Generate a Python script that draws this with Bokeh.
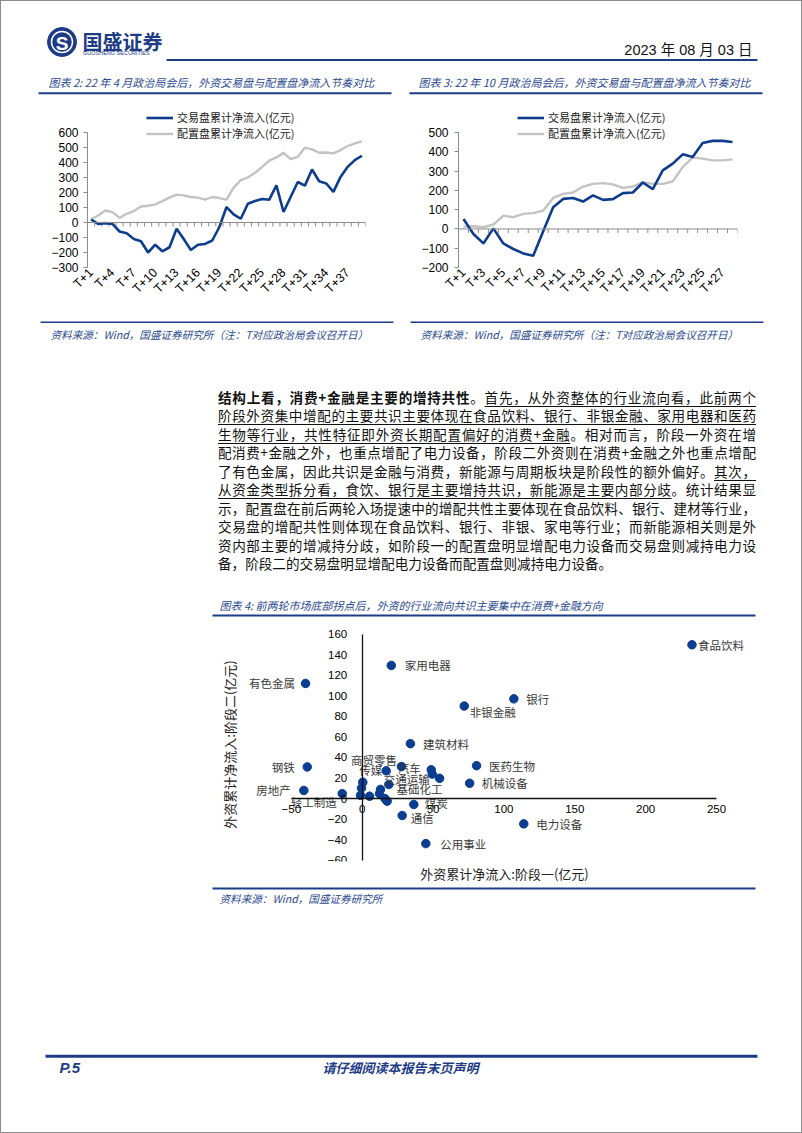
import math
from bokeh.plotting import figure
from bokeh.models import (Range1d, LinearAxis, FixedTicker, Legend, LegendItem,
                          ColumnDataSource, Div, Span)
from bokeh.layouts import column, row
from bokeh.core.properties import value
from bokeh.embed import file_html
from bokeh.resources import INLINE

# ---------------- data ----------------
apr_labels = ["T+%d" % i for i in range(1, 40)]
apr_trade = [20, -9, -4, -9, -60, -72, -110, -125, -200, -148, -192, -165, -42, -110,
             -183, -148, -143, -120, -30, 103, 54, 25, 125, 143, 157, 152, 248, 70,
             170, 270, 246, 353, 275, 260, 204, 304, 371, 416, 445]
apr_alloc = [20, 47, 80, 69, 31, 58, 76, 107, 112, 121, 143, 166, 186, 181, 170, 166,
             152, 170, 163, 152, 233, 282, 300, 331, 371, 412, 434, 465, 423, 438,
             499, 488, 465, 467, 461, 483, 510, 528, 541]

oct_labels = ["T+%d" % i for i in range(1, 29)]
oct_trade = [52, -26, -75, 3, -75, -104, -127, -139, -12, 113, 156, 161, 142, 174,
             151, 155, 186, 189, 241, 207, 304, 339, 387, 373, 446, 457, 457, 451]
oct_alloc = [12, 14, 9, 23, 69, 61, 78, 82, 95, 161, 182, 189, 220, 234, 238, 231,
             213, 220, 243, 234, 234, 246, 321, 370, 365, 356, 356, 361]

ind_names = ["食品饮料", "家用电器", "有色金属", "银行", "非银金融", "建筑材料", "钢铁",
             "医药生物", "机械设备", "房地产", "电力设备", "公用事业", "通信", "煤炭",
             "轻工制造", "传媒", "商贸零售", "汽车", "交通运输", "基础化工",
             "", "", "", "", "", "", "", "", ""]
stage1_flow = [232.7, 20.5, -40.0, 107.0, 72.0, 34.0, -38.8, 80.7, 75.8, -41.2, 114.0,
               44.9, 28.2, 36.4, -14.1, 16.9, 27.7, 48.7, 18.8, 12.9,
               49.4, 54.6, 0.4, -0.5, -1.2, 5.2, 12.2, 16.0, 17.6]
stage2_flow = [149.6, 129.5, 112.0, 97.0, 90.0, 53.4, 30.8, 32.0, 14.9, 7.9, -24.6,
               -43.8, -16.5, -5.7, 4.8, 27.0, 31.1, 28.0, 13.7, 8.9,
               23.8, 19.7, 15.9, 10.2, 3.2, 2.3, 4.8, 0.0, -2.5]

# label placement (style only): dx, dy in px, alignment
label_style = {
    "食品饮料": (6, 0, "left"), "家用电器": (13.5, 0, "left"), "有色金属": (-10.5, 0, "right"),
    "银行": (12.5, 0, "left"), "非银金融": (5.5, 5.5, "left"), "建筑材料": (12.5, 0, "left"),
    "钢铁": (-12.5, 0, "right"), "医药生物": (12.5, 0, "left"), "机械设备": (12, 0, "left"),
    "房地产": (-13, 0, "right"), "电力设备": (12.5, 0, "left"), "公用事业": (14.5, 0, "left"),
    "通信": (8.5, 2.5, "left"), "煤炭": (11, -1, "left"), "轻工制造": (-5.5, 8.5, "right"),
    "传媒": (-4, -1, "right"), "商贸零售": (-4.5, -7, "right"), "汽车": (-10.5, -2, "right"),
    "交通运输": (-5, -5.5, "left"), "基础化工": (16, -0.5, "left"),
}

CJK = "Noto Sans CJK SC"
NUM = "Liberation Sans"
NAVY = "#1E3C86"
TITLE_C = "#2B4A8E"
BLUE = "#0F3D8E"
GRAY = "#C3C3C3"
AX = "#8C8C8C"
PT = "#0B3D91"

CLEAR = dict(background_fill_color=None, border_fill_color=None, outline_line_color=None)


def canvas(w, h, y0):
    p = figure(width=w, height=h, x_range=Range1d(0, w), y_range=Range1d(y0 + h, y0),
               output_backend="svg", toolbar_location=None, x_axis_location=None,
               y_axis_location=None, min_border=0, **CLEAR)
    p.xgrid.grid_line_color = None
    p.ygrid.grid_line_color = None
    return p


def txt(p, x, y, s, size, color="#000", font=CJK, align="left", style="normal"):
    p.text(x=[x], y=[y], text=[s], text_font=value(font), text_font_size=size,
           text_color=color, text_align=align, text_baseline="middle",
           text_font_style=style)


def hline(p, x0, x1, y, color=NAVY, w=2.0):
    p.segment(x0=[x0], y0=[y], x1=[x1], y1=[y], line_color=color, line_width=w)


# ---------------- header ----------------
hdr = canvas(802, 100, 0)
hdr.circle(x=[61.5], y=[41.5], radius=14.5, fill_color=NAVY, line_color=NAVY)
hdr.circle(x=[61.5], y=[41.5], radius=10.5, fill_color=None, line_color="white", line_width=1.5)
txt(hdr, 61.5, 42.5, "S", "19px", "white", NUM, "center", "bold")
txt(hdr, 82, 40.5, "国盛证券", "20px", NAVY, CJK, "left", "bold")
txt(hdr, 82.5, 52.5, "GUOSHENG  SECURITIES", "5.5px", NAVY, NUM)
txt(hdr, 752, 49, "2023 年 08 月 03 日", "14.5px", "#111", NUM + ", " + CJK, "right")
hline(hdr, 166, 757, 59.5, NAVY, 2)
txt(hdr, 48, 81, "图表 2: 22 年 4 月政治局会后，外资交易盘与配置盘净流入节奏对比",
    "11px", TITLE_C, CJK, "left", "italic")
txt(hdr, 418, 81, "图表 3: 22 年 10 月政治局会后，外资交易盘与配置盘净流入节奏对比",
    "11px", TITLE_C, CJK, "left", "italic")
hline(hdr, 38, 391, 92.7, NAVY, 2)
hline(hdr, 409, 762, 92.7, NAVY, 2)


# ---------------- line charts ----------------
def line_chart(labels, trade, alloc, ymin, ymax, bl, br, step, y_standoff, px_per_100):
    n = len(labels)
    xs = list(range(1, n + 1))
    # frame extends 24 px above the top tick so the legend stays inside it
    ytop = ymax + 24.0 / px_per_100 * 100
    p = figure(width=401, height=215, x_range=Range1d(0.5, n + 0.5),
               y_range=Range1d(ymin, ytop), output_backend="svg", toolbar_location=None,
               min_border_left=bl, min_border_right=br, min_border_top=8,
               min_border_bottom=48, **CLEAR)
    p.xgrid.grid_line_color = None
    p.ygrid.grid_line_color = None

    # zero axis line with ticks between categories
    p.add_layout(Span(location=0, dimension="width", line_color=AX, line_width=1))
    tick_len = 4.0 / px_per_100 * 100
    bnd = [i + 0.5 for i in range(0, n + 1)]
    p.segment(x0=bnd, y0=[0] * len(bnd), x1=bnd, y1=[-tick_len] * len(bnd),
              line_color=AX, line_width=1)

    src = ColumnDataSource(dict(x=xs, trade=trade, alloc=alloc))
    r2 = p.line("x", "alloc", source=src, line_color=GRAY, line_width=2.4)
    r1 = p.line("x", "trade", source=src, line_color=BLUE, line_width=2.6)

    xa = p.xaxis[0]
    ticks = xs[::step]
    xa.ticker = FixedTicker(ticks=ticks)
    xa.major_label_overrides = {t: labels[t - 1] for t in ticks}
    xa.major_label_orientation = math.pi / 4
    xa.axis_line_color = None
    xa.major_tick_line_color = None
    xa.minor_tick_line_color = None
    xa.major_tick_out = 0
    xa.major_tick_in = 0
    xa.major_label_standoff = 3
    xa.major_label_text_font = NUM
    xa.major_label_text_font_size = "12.5px"
    xa.major_label_text_color = "#000"

    ya = p.yaxis[0]
    ya.bounds = (ymin, ymax)
    ya.ticker = FixedTicker(ticks=list(range(ymin, ymax + 1, 100)))
    ya.axis_line_color = AX
    ya.major_tick_line_color = AX
    ya.major_tick_out = 4
    ya.major_tick_in = 0
    ya.minor_tick_line_color = None
    ya.major_label_standoff = y_standoff
    ya.major_label_text_font = NUM
    ya.major_label_text_font_size = "12px"
    ya.major_label_text_color = "#000"

    leg = Legend(items=[LegendItem(label="交易盘累计净流入(亿元)", renderers=[r1]),
                        LegendItem(label="配置盘累计净流入(亿元)", renderers=[r2])],
                 location=(59, 126), orientation="vertical", glyph_width=27,
                 glyph_height=15, label_height=15, label_standoff=4, spacing=0,
                 padding=0, margin=0, border_line_color=None, background_fill_alpha=0,
                 label_text_font=CJK, label_text_font_size="11px",
                 label_text_color="#222")
    p.add_layout(leg)
    return p


c2 = line_chart(apr_labels, apr_trade, apr_alloc, -300, 600, 87, 36, 3, 5, 15.0)
c3 = line_chart(oct_labels, oct_trade, oct_alloc, -200, 500, 57, 65, 2, 6, 19.2)

# ---------------- sources under charts ----------------
src_c = canvas(802, 50, 315)
hline(src_c, 40, 393, 321.7, NAVY, 1.5)
hline(src_c, 410, 763, 321.7, NAVY, 1.5)
note = "资料来源：Wind，国盛证券研究所（注：T对应政治局会议召开日）"
txt(src_c, 50, 333.5, note, "10.6px", TITLE_C, CJK, "left", "italic")
txt(src_c, 420, 333.5, note, "10.6px", TITLE_C, CJK, "left", "italic")

# ---------------- paragraph ----------------
para_lines = [
    "<b>结构上看，消费+金融是主要的增持共性</b>。<u>首先，从外资整体的行业流向看，此前两个</u>",
    "<u>阶段外资集中增配的主要共识主要体现在食品饮料、银行、非银金融、家用电器和医药</u>",
    "<u>生物等行业，共性特征即外资长期配置偏好的消费+金融</u>。相对而言，阶段一外资在增",
    "配消费+金融之外，也重点增配了电力设备，阶段二外资则在消费+金融之外也重点增配",
    "了有色金属，因此共识是金融与消费，新能源与周期板块是阶段性的额外偏好。<u>其次，</u>",
    "<u>从资金类型拆分看，食饮、银行是主要增持共识，新能源是主要内部分歧</u>。统计结果显",
    "示，配置盘在前后两轮入场提速中的增配共性主要体现在食品饮料、银行、建材等行业，",
    "交易盘的增配共性则体现在食品饮料、银行、非银、家电等行业；而新能源相关则是外",
    "资内部主要的增减持分歧，如阶段一的配置盘明显增配电力设备而交易盘则减持电力设",
    "备，阶段二的交易盘明显增配电力设备而配置盘则减持电力设备。",
]
rows_html = ""
for i, ln in enumerate(para_lines):
    last = "left" if i == len(para_lines) - 1 else "justify"
    rows_html += ('<div style="text-align:justify;text-align-last:%s;white-space:nowrap;'
                  'height:18.55px;">%s</div>' % (last, ln))
para_html = ('<div style="position:relative;width:802px;height:225px;">'
             '<div style="position:absolute;left:218px;top:22.5px;width:538px;'
             "font-family:'Noto Sans CJK SC';font-size:13.6px;line-height:18.55px;"
             'color:#111;text-decoration-thickness:1px;text-underline-offset:3px;">'
             + rows_html + '</div></div>')
para = Div(text=para_html, width=802, height=225, styles={"margin": "0", "padding": "0"})

# ---------------- chart 4 title ----------------
t4 = canvas(802, 35, 590)
txt(t4, 219, 604, "图表 4: 前两轮市场底部拐点后，外资的行业流向共识主要集中在消费+金融方向",
    "11px", TITLE_C, CJK, "left", "italic")
hline(t4, 212, 755, 615, NAVY, 2)

# ---------------- scatter ----------------
sc = figure(width=802, height=260, x_range=Range1d(-85.9, 286.7),
            y_range=Range1d(-61.2, 166.4), output_backend="svg", toolbar_location=None,
            min_border_left=240, min_border_right=34, min_border_top=2,
            min_border_bottom=19, **CLEAR)
sc.xgrid.grid_line_color = None
sc.ygrid.grid_line_color = None
for ax, lab in ((sc.xaxis[0], "外资累计净流入:阶段一(亿元)"), (sc.yaxis[0], "外资累计净流入:阶段二(亿元)")):
    ax.ticker = FixedTicker(ticks=[])
    ax.axis_line_color = None
    ax.major_tick_line_color = None
    ax.minor_tick_line_color = None
    ax.major_tick_out = 0
    ax.major_tick_in = 0
    ax.axis_label = lab
    ax.axis_label_text_font = CJK
    ax.axis_label_text_font_size = "13px"
    ax.axis_label_text_font_style = "normal"
    ax.axis_label_text_color = "#222"
    ax.axis_label_standoff = 2

xz = LinearAxis(fixed_location=0, bounds=(-50, 250),
                ticker=FixedTicker(ticks=[-50, 0, 50, 100, 150, 200, 250]),
                axis_line_color="#111", axis_line_width=1.3, major_tick_line_color=None,
                minor_tick_line_color=None, major_tick_out=0, major_tick_in=0,
                major_label_standoff=6, major_label_text_font=NUM,
                major_label_text_font_size="11.5px", major_label_text_color="#000")
sc.add_layout(xz, "below")
yz = LinearAxis(fixed_location=0, bounds=(-60, 160),
                ticker=FixedTicker(ticks=list(range(-60, 161, 20))),
                axis_line_color="#111", axis_line_width=1.3, major_tick_line_color=None,
                minor_tick_line_color=None, major_tick_out=0, major_tick_in=0,
                major_label_standoff=15, major_label_text_font=NUM,
                major_label_text_font_size="11.5px", major_label_text_color="#000")
sc.add_layout(yz, "left")

pts = ColumnDataSource(dict(x=stage1_flow, y=stage2_flow, name=ind_names))
sc.scatter("x", "y", source=pts, size=8.5, fill_color=PT, line_color=PT)

lab_x, lab_y, lab_t, lab_dx, lab_dy, lab_al = [], [], [], [], [], []
for nm, xv, yv in zip(ind_names, stage1_flow, stage2_flow):
    if nm:
        dx, dy, al = label_style[nm]
        lab_x.append(xv); lab_y.append(yv); lab_t.append(nm)
        lab_dx.append(dx); lab_dy.append(dy); lab_al.append(al)
lab_src = ColumnDataSource(dict(x=lab_x, y=lab_y, t=lab_t, dx=lab_dx, dy=lab_dy, al=lab_al))
sc.text("x", "y", text="t", source=lab_src, x_offset="dx", y_offset="dy", text_align="al",
        text_baseline="middle", text_font=value(CJK), text_font_size="11.5px",
        text_color="#3A3A3A")

# ---------------- footer ----------------
ft = canvas(802, 248, 885)
hline(ft, 212, 755, 888, NAVY, 2)
txt(ft, 219, 897.5, "资料来源：Wind，国盛证券研究所", "10.6px", TITLE_C, CJK, "left", "italic")
hline(ft, 45, 757, 1055.7, NAVY, 3)
txt(ft, 59, 1067, "P.5", "15px", NAVY, NUM, "left", "bold italic")
txt(ft, 400, 1067, "请仔细阅读本报告末页声明", "13px", NAVY, CJK, "center", "bold italic")

page = column(row(hdr), row(c2, c3, spacing=0), row(src_c), para, row(t4), row(sc), row(ft),
              spacing=0,
              styles={"box-shadow": "inset 0 0 0 1px #8c8c8c", "background": "white"})

open("out.html", "w").write(file_html(page, INLINE))
